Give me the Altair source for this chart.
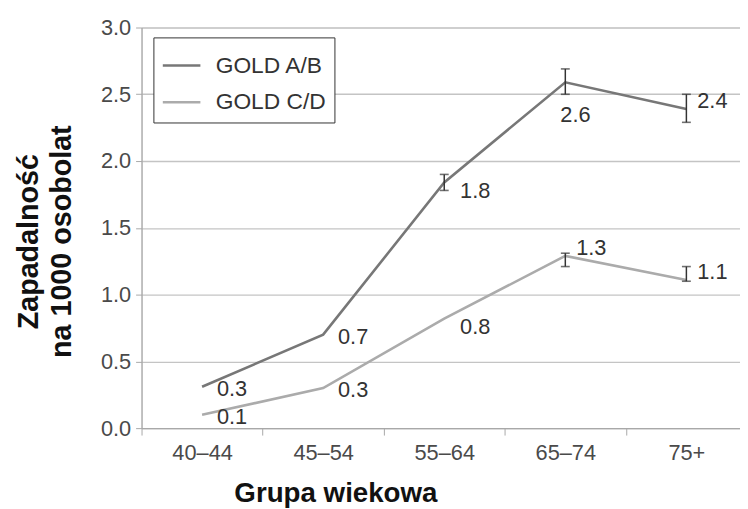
import altair as alt
import pandas as pd

age_groups = ["40–44", "45–54", "55–64", "65–74", "75+"]
series_names = ["GOLD A/B", "GOLD C/D"]
ab_values = [0.31, 0.70, 1.84, 2.59, 2.39]
cd_values = [0.10, 0.30, 0.82, 1.29, 1.11]
ab_labels = ["0.3", "0.7", "1.8", "2.6", "2.4"]
cd_labels = ["0.1", "0.3", "0.8", "1.3", "1.1"]
ab_low = [None, None, 1.78, 2.50, 2.29]
ab_high = [None, None, 1.90, 2.69, 2.50]
cd_low = [None, None, None, 1.21, 1.10]
cd_high = [None, None, None, 1.31, 1.21]

rows = []
for s, vals, labs, lo, hi in [
    (series_names[0], ab_values, ab_labels, ab_low, ab_high),
    (series_names[1], cd_values, cd_labels, cd_low, cd_high),
]:
    for g, v, l, a, b in zip(age_groups, vals, labs, lo, hi):
        rows.append({"age": g, "series": s, "value": v, "label": l, "lo": a, "hi": b})
df = pd.DataFrame(rows)

FONT = "Liberation Sans"
x_scale = alt.Scale(domain=age_groups, range=[0, 612], paddingInner=0, paddingOuter=0)
x_enc = alt.X("age:N", sort=age_groups, title="Grupa wiekowa", scale=x_scale,
              axis=alt.Axis(labelAngle=0, bandPosition=0, tickBand="extent",
                            labelFontSize=22, labelColor="#4a4a4a", labelPadding=8,
                            titleFontSize=28, titleFontWeight="bold", titleColor="#111111",
                            titleX=196, titleY=74, titleAlign="center", titleBaseline="alphabetic",
                            domainColor="#a8a8a8", domainWidth=1.3, tickColor="#a8a8a8",
                            tickSize=7, grid=False))
y_scale = alt.Scale(domain=[0, 3])
y_axis = alt.Axis(values=[0, 0.5, 1, 1.5, 2, 2.5, 3], format=".1f",
                  labelFontSize=22, labelColor="#4a4a4a", labelPadding=5,
                  title=["Zapadalność", "na 1000 osobolat"], titleFontSize=29,
                  titleFontWeight="bold", titleColor="#111111", titleAngle=270,
                  titleX=-128, titleY=216, titleAlign="center", titleBaseline="top",
                  titleLineHeight=33,
                  domainColor="#a8a8a8", domainWidth=1.3, tickColor="#a8a8a8", tickSize=6,
                  gridColor="#c4c4c4", gridWidth=1.4)

color = alt.Color("series:N", scale=alt.Scale(domain=series_names, range=["#777777", "#ababab"]),
                  legend=alt.Legend(title=None, orient="none", legendX=12, legendY=10,
                                    symbolType="stroke", symbolStrokeWidth=2.5,
                                    symbolSize=1444, labelFontSize=23, labelColor="#333333",
                                    rowPadding=4, padding=8, strokeColor="#333333",
                                    fillColor="white", labelOffset=14))

base = alt.Chart(df)
xe = alt.X("age:N", sort=age_groups, scale=x_scale)

lines = base.mark_line(strokeWidth=2.6).encode(
    x=x_enc, y=alt.Y("value:Q", scale=y_scale, axis=y_axis), color=color)

eb = base.transform_filter("datum.lo != null")
err = eb.mark_rule(color="#333333", strokeWidth=1.5).encode(x=xe, y="lo:Q", y2="hi:Q")
cap_lo = eb.mark_tick(color="#333333", thickness=1.6, size=9).encode(x=xe, y="lo:Q")
cap_hi = eb.mark_tick(color="#333333", thickness=1.6, size=9).encode(x=xe, y="hi:Q")

low_groups = "(datum.age == '40–44' || datum.age == '45–54')"
mid_groups = "datum.age == '55–64'"
below = "(datum.series == 'GOLD A/B' && datum.age == '65–74')"
upper = "((datum.series == 'GOLD C/D' && datum.age == '65–74') || datum.age == '75+')"

txt = dict(fontSize=22, color="#333333", font=FONT, align="left", baseline="middle")
enc = dict(x=xe, y="value:Q", text="label:N")
t1 = base.transform_filter(low_groups).mark_text(dx=15, dy=2, **txt).encode(**enc)
t2 = base.transform_filter(mid_groups).mark_text(dx=16, dy=9, **txt).encode(**enc)
t3 = base.transform_filter(below).mark_text(dx=-5, dy=33, **txt).encode(**enc)
t4 = base.transform_filter(upper).mark_text(dx=11, dy=-8, **txt).encode(**enc)

chart = alt.layer(lines, err, cap_lo, cap_hi, t1, t2, t3, t4).properties(
    width=605, height=405,
    autosize=alt.AutoSizeParams(type="none"),
    padding={"left": 135, "top": 17, "right": 0, "bottom": 78}
).configure_view(stroke=None).configure(font=FONT)

chart.save("out.html", embed_options={"renderer": "svg", "actions": False})
